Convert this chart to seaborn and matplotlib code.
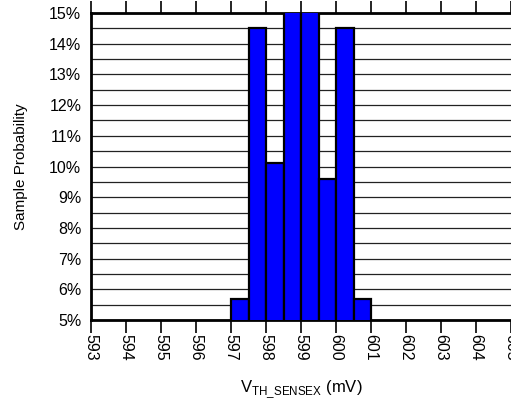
import matplotlib
matplotlib.use("Agg")
import matplotlib.pyplot as plt
import seaborn as sns
from matplotlib.ticker import MultipleLocator, PercentFormatter

# histogram bins (mV) and sample probability per bin (%)
bin_edges = [597.0, 597.5, 598.0, 598.5, 599.0, 599.5, 600.0, 600.5, 601.0]
probability = [5.7, 14.5, 10.1, 15.5, 15.5, 9.6, 14.5, 5.7]
x_ticks = list(range(593, 606))

bin_centers = [(a + b) / 2 for a, b in zip(bin_edges[:-1], bin_edges[1:])]

sns.set_theme(style="white")
plt.rcParams["font.family"] = ["Liberation Sans", "DejaVu Sans"]
plt.rcParams["mathtext.fontset"] = "custom"
plt.rcParams["mathtext.rm"] = "Liberation Sans"
plt.rcParams["text.color"] = "black"
plt.rcParams["axes.labelcolor"] = "black"
plt.rcParams["xtick.color"] = "black"
plt.rcParams["ytick.color"] = "black"

fig = plt.figure(figsize=(5.11, 4.03), dpi=100)
ax = fig.add_axes([91 / 511, 1 - 320 / 403, 420 / 511, 307 / 403])

sns.histplot(x=bin_centers, weights=probability, bins=bin_edges, ax=ax,
             color="#0000FF", edgecolor="black", linewidth=1.6, alpha=1.0,
             zorder=3)

ax.set_xlim(593, 605)
ax.set_ylim(5, 15)
ax.set_xticks(x_ticks)
ax.set_xticklabels([str(t) for t in x_ticks], rotation=270, fontsize=11.5)
ax.yaxis.set_major_locator(MultipleLocator(1))
ax.yaxis.set_minor_locator(MultipleLocator(0.5))
ax.yaxis.set_major_formatter(PercentFormatter(100, decimals=0))
ax.grid(True, axis="y", which="both", color="#222222", linewidth=0.9, zorder=0)
ax.set_axisbelow(True)

ax.tick_params(axis="x", which="major", direction="out", length=9, width=1.2,
               color="black", labelcolor="black", top=True, bottom=True, pad=1)
ax.tick_params(axis="y", which="both", length=0, pad=7, labelsize=11.5,
               labelcolor="black")

for side in ["left", "bottom", "top"]:
    ax.spines[side].set_color("black")
    ax.spines[side].set_linewidth(2.0)
ax.spines["right"].set_visible(False)

ax.set_ylabel("Sample Probability", fontsize=11, labelpad=15, color="black")
ax.set_xlabel(r"V$_{\mathrm{TH\_SENSEX}}$ (mV)", fontsize=12, labelpad=13,
              color="black")

fig.savefig("out.png", dpi=100)
